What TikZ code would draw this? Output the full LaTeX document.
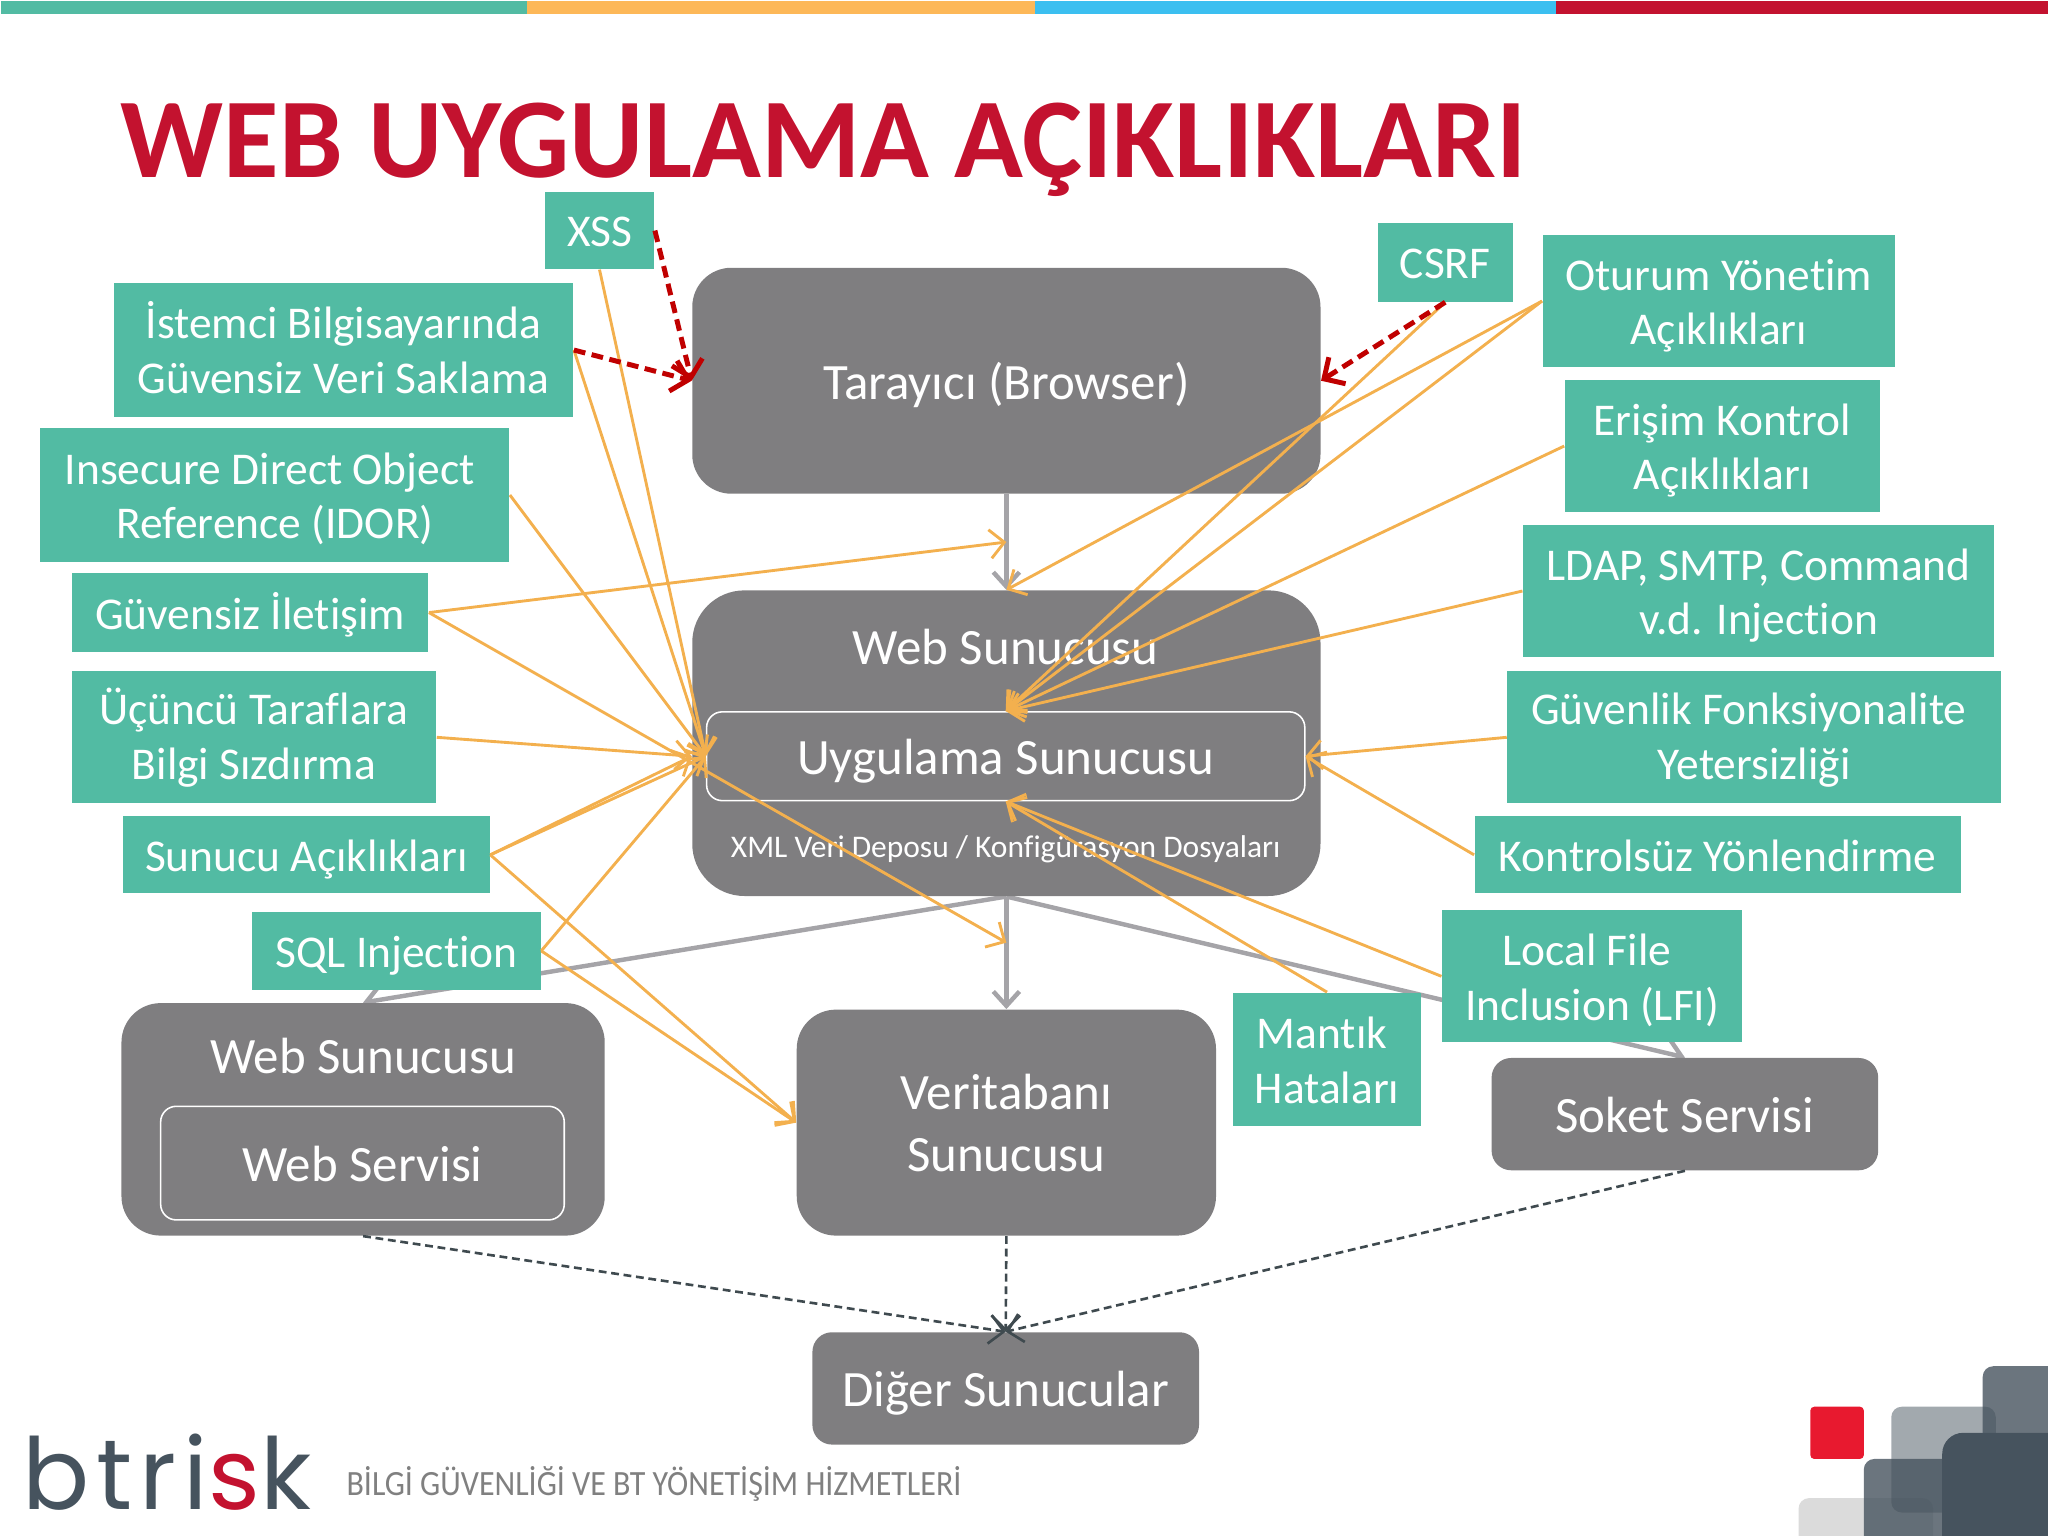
\documentclass[tikz,border=0pt]{standalone}
\usepackage{fontspec}
\setmainfont{Carlito}[Ligatures={TeX,NoCommon}]
\newfontfamily\logofont[LetterSpace=7]{Poppins}
\usepackage{tikz}
\usetikzlibrary{positioning}
\usetikzlibrary{calc}
\usetikzlibrary{arrows.meta}
\usetikzlibrary{backgrounds}
\definecolor{vulngreen}{HTML}{52BBA3}
\definecolor{srvgray}{HTML}{7F7E80}
\definecolor{linkgray}{HTML}{A5A4A8}
\definecolor{vulnorange}{HTML}{F3B04E}
\definecolor{dashred}{HTML}{C00000}
\definecolor{dashdark}{HTML}{3F4A4F}
\definecolor{titlered}{HTML}{C3122F}
\definecolor{barblue}{HTML}{3BBFF0}
\definecolor{barorange}{HTML}{FDB858}
\definecolor{logoslate}{HTML}{46535E}
\definecolor{logored}{HTML}{E8192F}
\def\topstrut#1{\vrule width 0pt height #1\baselineskip depth 0pt\relax}
\def\botstrut{\vrule width 0pt height 0pt depth .2\baselineskip\relax}
\tikzset{
	struts/.style={
		execute at begin node=\topstrut{.8}, execute at end node=\botstrut
	},
	vuln/.style 2 args={
		fill=vulngreen, text=white, align=center, inner sep=0pt, struts,
		minimum width=#1*.5pt, minimum height=#2*.5pt,
		font=\fontsize{17.4}{21}\selectfont
	},
	srv/.style n args={3}{
		fill=srvgray, text=white, align=center, inner sep=0pt, struts,
		minimum width=#1*.5pt, minimum height=#2*.5pt, rounded corners=#3*.5pt,
		font=\fontsize{19.5}{23.5}\selectfont
	},
	innersrv/.style 2 args={
		draw=white, line width=.6pt, text=white, align=center, inner sep=0pt, struts,
		minimum width=#1*.5pt, minimum height=#2*.5pt, rounded corners=6pt,
		font=\fontsize{19.5}{23.5}\selectfont
	},
	srvlabel/.style={
		text=white, inner sep=0pt, struts, font=\fontsize{19.5}{23.5}\selectfont
	},
	graylink/.style={
		draw=linkgray, line width=1.7pt, -{Straight Barb[length=5.5pt,width=10pt]}
	},
	vulnlink/.style={
		draw=vulnorange, line width=1.1pt, -{Straight Barb[length=5.5pt,width=11pt]}
	},
	redlink/.style={
		draw=dashred, line width=1.9pt, dash pattern=on 4.5pt off 2.5pt, -{Straight Barb[length=6pt,width=12pt]}
	},
	darklink/.style={
		draw=dashdark, line width=1pt, dash pattern=on 3pt off 1.8pt, -{Straight Barb[length=5.5pt,width=11pt]}
	},
	topbar/.style={
		minimum height=5pt, inner sep=0pt, anchor=north west
	},
	deco/.style={
		rounded corners=4pt
	}
}
\begin{document}
\begin{tikzpicture}[x=.5pt,y=-.5pt]
    \useasboundingbox (0,0) rectangle (1568,1176);

    \node[topbar, fill=vulngreen, minimum width=201.5pt] (bargreen) at (0,0) {};
    \node[topbar, fill=barorange, minimum width=194.5pt] (barorange) at (403,0) {};
    \node[topbar, fill=barblue, minimum width=199.5pt] (barblue) at (792,0) {};
    \node[topbar, fill=titlered, minimum width=188.5pt] (barred) at (1191,0) {};

    \node[anchor=base west, inner sep=0pt, text=titlered, font=\fontsize{43.5}{50}\selectfont\bfseries] (title) at (92,136) {WEB UYGULAMA AÇIKLIKLARI};

    % servers
    \node[srv={481}{173}{30}] (tarayici) at (770.5,291.5) {Tarayıcı (Browser)};
    \node[srv={481}{234}{40}] (websrv) at (770.5,569) {};
    \node[srvlabel] (websrvlabel) at (770,495) {Web Sunucusu};
    \node[innersrv={458}{68}] (uyg) at (770,579) {Uygulama Sunucusu};
    \node[srvlabel, font=\fontsize{12.05}{14}\selectfont] (xmllabel) at (770,648) {XML Veri Deposu / Konfigürasyon Dosyaları};
    \node[srv={370}{178}{30}] (wsbox) at (278,857) {};
    \node[srvlabel] (wslabel) at (278,808) {Web Sunucusu};
    \node[innersrv={309}{87}] (wservisi) at (277.5,890.5) {Web Servisi};
    \node[srv={321}{173}{30}] (veri) at (770.5,859.5) {\topstrut{.78}Veritabanı\\Sunucusu};
    \node[srv={296}{86}{15}] (soket) at (1290,853) {Soket Servisi};
    \node[srv={296}{86}{15}] (diger) at (770,1063) {Diğer Sunucular};

    % vulnerabilities
    \node[vuln={84}{59}] (xss) at (459,176.5) {XSS};
    \node[vuln={352}{102}] (istemci) at (263,268) {\topstrut{.79}İstemci Bilgisayarında\\Güvensiz Veri Saklama};
    \node[vuln={359}{102}] (idor) at (210.5,379) {\topstrut{.8}Insecure Direct Object~\null\\Reference (IDOR)};
    \node[vuln={273}{60}] (guvensiz) at (191.5,469) {Güvensiz İletişim};
    \node[vuln={279}{101}] (ucuncu) at (194.5,564.5) {\topstrut{.74}Üçüncü Taraflara\\Bilgi Sızdırma};
    \node[vuln={281}{59}] (sunucu) at (234.5,654.5) {Sunucu Açıklıkları};
    \node[vuln={221}{60}] (sql) at (303.5,728) {SQL Injection};
    \node[vuln={103}{60}] (csrf) at (1106.5,201) {CSRF};
    \node[vuln={270}{101}] (oturum) at (1316,230.5) {\topstrut{.8}Oturum Yönetim\\Açıklıkları};
    \node[vuln={241}{101}] (erisim) at (1318.5,341.5) {\topstrut{.8}Erişim Kontrol\\Açıklıkları};
    \node[vuln={361}{101}] (ldap) at (1346.5,452.5) {\topstrut{.8}LDAP, SMTP, Command\\v.d. Injection};
    \node[vuln={378}{101}] (guvenlik) at (1343,564.5) {\topstrut{.72}Güvenlik Fonksiyonalite~\null\\Yetersizliği};
    \node[vuln={372}{59}] (kontrolsuz) at (1315,654.5) {Kontrolsüz Yönlendirme};
    \node[vuln={230}{101}] (lfi) at (1219,747.5) {\topstrut{.8}Local File~\null\\Inclusion (LFI)};
    \node[vuln={144}{102}] (mantik) at (1016,811) {\topstrut{.8}Mantık~\null\\Hataları};

    \coordinate (browsermid) at ($(tarayici.south)!.5!(websrv.north)$);
    \coordinate (dbmid) at ($(websrv.south)!.41!(veri.north)$);
    \coordinate (webleft) at (websrv.west |- uyg.west);

    \begin{pgfonlayer}{background}
        \foreach \a/\b in {tarayici.south/websrv.north, websrv.south/wsbox.north, websrv.south/veri.north, websrv.south/soket.north}
            \draw[graylink] (\a) -- (\b);
    \end{pgfonlayer}

    \foreach \a/\b in {wsbox.south/diger.north, veri.south/diger.north, soket.south/diger.north}
        \draw[darklink] (\a) -- (\b);

    \foreach \a/\b in {xss.south/uyg.west, istemci.east/uyg.west, idor.east/uyg.west,
        guvensiz.east/browsermid, guvensiz.east/dbmid,
        ucuncu.east/webleft, sunucu.east/webleft, sunucu.east/uyg.west, sunucu.east/veri.west,
        sql.east/uyg.west, sql.east/veri.west,
        csrf.south/uyg.north, oturum.west/websrv.north, oturum.west/uyg.north,
        erisim.west/uyg.north, ldap.west/uyg.north,
        guvenlik.west/uyg.east, kontrolsuz.west/uyg.east,
        lfi.west/uyg.south, mantik.north/uyg.south}
        \draw[vulnlink] (\a) -- (\b);

    \draw[redlink] (xss.east) -- (tarayici.west);
    \draw[redlink] (istemci.east) -- (tarayici.west);
    \draw[redlink] (csrf.south) -- (tarayici.east);

    % footer
    \node[anchor=base west, inner sep=0pt, text=logoslate, font=\logofont\fontsize{38}{40}\selectfont] (logo) at (17,1156) {btri\textcolor{titlered}{s}k};
    \node[anchor=base west, inner sep=0pt, text=black!50, xscale=.9, font=\fontsize{13.6}{14}\selectfont] (slogan) at (265,1145) {BİLGİ GÜVENLİĞİ VE BT YÖNETİŞİM HİZMETLERİ};

    \begin{scope}
        \clip (0,0) rectangle (1568,1176);
        \fill[deco, black!14] (1377,1147) rectangle (1480,1200);
        \fill[deco, logoslate, opacity=.5] (1448,1077) rectangle (1528,1158);
        \fill[deco, logoslate, opacity=.8] (1427,1117) rectangle (1600,1200);
        \fill[deco, logoslate, opacity=.8] (1518,1046) rectangle (1600,1200);
        \fill[rounded corners=8pt, logoslate] (1487,1097) rectangle (1600,1200);
        \fill[rounded corners=1.5pt, logored] (1386,1077) rectangle (1427,1117);
    \end{scope}
\end{tikzpicture}
\end{document}
